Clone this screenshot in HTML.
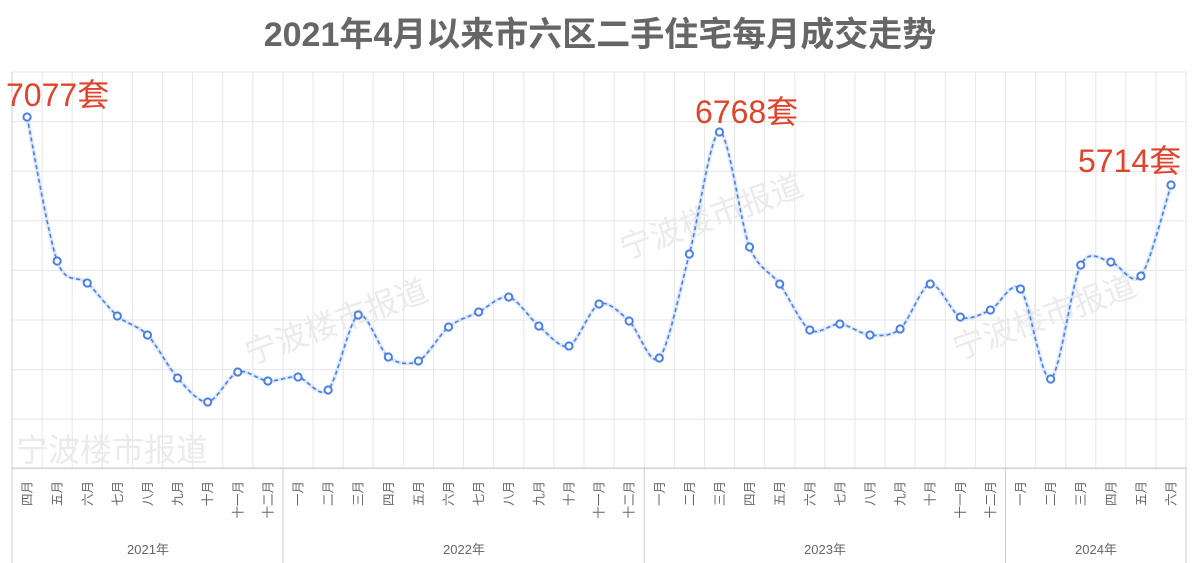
<!DOCTYPE html>
<html><head><meta charset="utf-8"><style>
html,body{margin:0;padding:0;background:#fff;width:1200px;height:563px;overflow:hidden}
svg{display:block;font-family:"Liberation Sans","Noto Sans CJK SC",sans-serif}
</style></head><body>
<svg id="s" width="1200" height="563" viewBox="0 0 1200 563" xmlns="http://www.w3.org/2000/svg">
<text x="600" y="46" text-anchor="middle" font-size="34" font-weight="bold" fill="#666">2021年4月以来市六区二手住宅每月成交走势</text>
<g id="grid" stroke="#e6e6e6" stroke-width="1"></g>
<g id="wm" fill="#ebebeb" font-size="32">
<text x="16" y="461">宁波楼市报道</text>
<text x="250" y="365" transform="rotate(-20 250 365)">宁波楼市报道</text>
<text x="625" y="260" transform="rotate(-20 625 260)">宁波楼市报道</text>
<text x="958" y="360" transform="rotate(-20 958 360)">宁波楼市报道</text>
</g>
<path id="glow" fill="none" stroke="#c8d8fa" stroke-width="4" opacity="0.6"/>
<path id="line" fill="none" stroke="#4a7ee8" stroke-width="1.6" stroke-dasharray="4,3"/>
<g id="pts"></g>
<g id="xl" font-size="12.5" fill="#666"></g>
<g font-size="13" fill="#666" text-anchor="middle">
<text x="148" y="554">2021年</text><text x="464" y="554">2022年</text><text x="825" y="554">2023年</text><text x="1096" y="554">2024年</text>
</g>
<g fill="#e0432c" font-size="32">
<text x="6" y="106">7077套</text>
<text x="695" y="123">6768套</text>
<text x="1078" y="172">5714套</text>
</g>
</svg>
<script>
var ys=[117,261,283,316,335,378,402,372,381,377,390,315,357,361,327,312,297,326,346,304,321,358,254,132,247,284,330,324,335,329,284,317,310,289,379,265,262,276,185];
var ns="http://www.w3.org/2000/svg",w=30.105,L=12,R=1186;
var g=document.getElementById('grid');
function ln(p,x1,y1,x2,y2,c){var e=document.createElementNS(ns,'line');e.setAttribute('x1',x1);e.setAttribute('y1',y1);e.setAttribute('x2',x2);e.setAttribute('y2',y2);if(c)e.setAttribute('stroke',c);p.appendChild(e);}
for(var y=72;y<=470;y+=49.6)ln(g,L,y,R,y);
for(var i=0;i<=39;i++)ln(g,L+i*w,72,L+i*w,468);
ln(g,L,468,R,468,'#ccc');
[0,9,21,33,39].forEach(function(k){ln(g,L+k*w,468,L+k*w,563,'#ccc')});
ln(g,L,72,L,563,'#ccc');
var P=ys.map(function(y,i){return [L+w/2+i*w,y]});
var d='M'+P[0];
for(var i=0;i<P.length-1;i++){var p0=P[i-1]||P[i],p1=P[i],p2=P[i+1],p3=P[i+2]||p2,t=0.15;
d+=' C'+(p1[0]+(p2[0]-p0[0])*t)+','+(p1[1]+(p2[1]-p0[1])*t)+' '+(p2[0]-(p3[0]-p1[0])*t)+','+(p2[1]-(p3[1]-p1[1])*t)+' '+p2[0]+','+p2[1];}
document.getElementById('line').setAttribute('d',d);
document.getElementById('glow').setAttribute('d',d);
var pts=document.getElementById('pts');
P.forEach(function(p){var c=document.createElementNS(ns,'circle');c.setAttribute('cx',p[0]);c.setAttribute('cy',p[1]);c.setAttribute('r',3.6);c.setAttribute('fill','#fff');c.setAttribute('stroke','#4a7ee8');c.setAttribute('stroke-width',2);pts.appendChild(c);});
var m=['四月','五月','六月','七月','八月','九月','十月','十一月','十二月'],all=m.slice(),yr=['一月','二月','三月','四月','五月','六月','七月','八月','九月','十月','十一月','十二月'];
all=all.concat(yr,yr,yr.slice(0,6));
var xl=document.getElementById('xl');
all.forEach(function(s,i){var x=P[i][0]+4.5,y=481;var t=document.createElementNS(ns,'text');t.setAttribute('x',x);t.setAttribute('y',y);t.setAttribute('text-anchor','end');t.setAttribute('transform','rotate(-90 '+x+' '+y+')');t.textContent=s;xl.appendChild(t);});
</script>
</body></html>
